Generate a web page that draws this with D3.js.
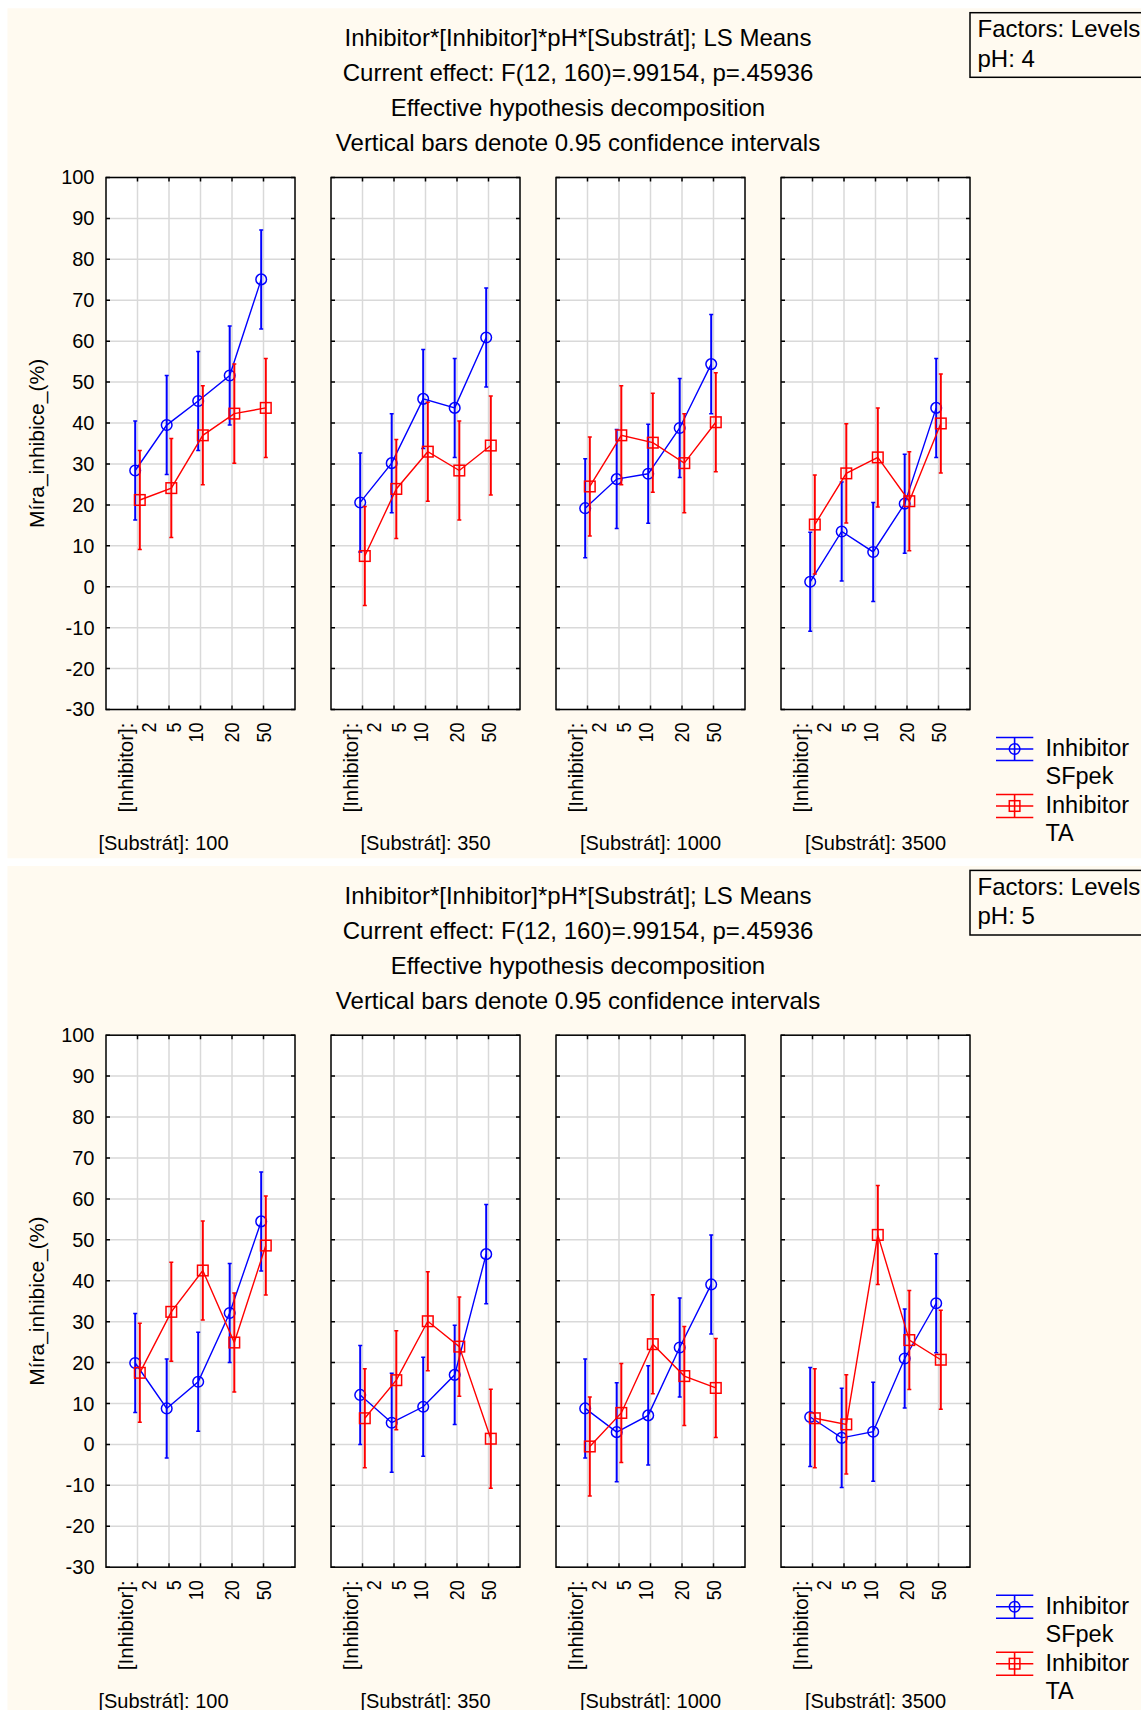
<!DOCTYPE html>
<html>
<head>
<meta charset="utf-8">
<script src="https://cdn.jsdelivr.net/npm/d3@7/dist/d3.min.js"></script>
<style>
  body { margin: 0; background: #ffffff; }
  svg text { font-family: "Liberation Sans", Arial, sans-serif; fill: #000; }
</style>
</head>
<body>
<div id="chart"></div>
<script>
// categories
var inhibitorLevels = ["2", "5", "10", "20", "50"];
var substrateLevels = ["100", "350", "1000", "3500"];
var phLevels = ["4", "5"];
var seriesNames = [["Inhibitor", "SFpek"], ["Inhibitor", "TA"]];
var yTicks = [-30, -20, -10, 0, 10, 20, 30, 40, 50, 60, 70, 80, 90, 100];
var titleLines = [
  "Inhibitor*[Inhibitor]*pH*[Substrát]; LS Means",
  "Current effect: F(12, 160)=.99154, p=.45936",
  "Effective hypothesis decomposition",
  "Vertical bars denote 0.95 confidence intervals"
];

// LS means, one row per substrate, one value per inhibitor level
var sfpekPH4 = [[28.4, 39.5, 45.4, 51.6, 75.1], [20.6, 30.2, 45.9, 43.7, 60.9],
                [19.2, 26.3, 27.6, 38.8, 54.4], [1.2, 13.5, 8.5, 20.3, 43.7]];
var taPH4    = [[21.2, 24.1, 37.0, 42.3, 43.7], [7.5, 23.9, 33.0, 28.4, 34.5],
                [24.5, 37.0, 35.2, 30.2, 40.2], [15.2, 27.7, 31.6, 20.9, 39.9]];
var sfpekPH5 = [[19.9, 8.8, 15.3, 32.1, 54.5], [12.1, 5.3, 9.2, 17.0, 46.5],
                [8.8, 3.0, 7.1, 23.7, 39.1], [6.7, 1.6, 3.1, 21.0, 34.5]];
var taPH5    = [[17.5, 32.4, 42.5, 24.9, 48.6], [6.4, 15.7, 30.1, 23.9, 1.4],
                [-0.5, 7.7, 24.5, 16.7, 13.8], [6.4, 4.9, 51.2, 25.5, 20.7]];
// half width of the 0.95 confidence interval (same for every cell)
var ciHalf = 12.1;

var means = [[sfpekPH4, taPH4], [sfpekPH5, taPH5]];
var colors = ["#0000ff", "#ff0000"];

// layout
var width = 1141, height = 1710;
var panelY = [8.3, 866];
var plotLeft = 106, plotStep = 225, plotW = 189;
var plotTop = 169.2, plotH = 532;
var dodge = [-2.3, 2.3];
var labelNudge = [0, 4.6, -4.7, 0, 0];

var svg = d3.select("#chart").append("svg")
  .attr("width", width)
  .attr("height", height);

var y = d3.scaleLinear().domain([-30, 100]).range([plotTop + plotH, plotTop]);

phLevels.forEach(function(ph, p) {
  var g = svg.append("g").attr("transform", "translate(0," + panelY[p] + ")");

  // cream background
  g.append("rect")
    .attr("x", 7.5).attr("y", 0)
    .attr("width", width)
    .attr("height", p == 0 ? 850 : height - panelY[p])
    .attr("fill", "#fffaf0");

  // titles
  g.selectAll(".title").data(titleLines).enter()
    .append("text")
      .attr("x", 578)
      .attr("y", function(d, i) { return 37.7 + 35 * i; })
      .attr("text-anchor", "middle")
      .style("font-size", "24px")
      .text(function(d) { return d; });

  // Factors box
  g.append("rect")
    .attr("x", 970).attr("y", 4.4)
    .attr("width", 200).attr("height", 64.6)
    .attr("fill", "none").attr("stroke", "#000").attr("stroke-width", 1.5);
  g.append("text").attr("x", 977.5).attr("y", 28.7).style("font-size", "24px").text("Factors: Levels");
  g.append("text").attr("x", 977.5).attr("y", 58.4).style("font-size", "24px").text("pH: " + ph);

  // y axis title
  g.append("text")
    .attr("transform", "translate(36.7," + (plotTop + plotH / 2) + ") rotate(-90)")
    .attr("text-anchor", "middle")
    .attr("dy", "0.35em")
    .style("font-size", "21px")
    .text("Míra_inhibice_(%)");

  // y tick labels (first plot only)
  g.selectAll(".ylab").data(yTicks).enter()
    .append("text")
      .attr("x", plotLeft - 11.5)
      .attr("y", function(d) { return y(d); })
      .attr("dy", "0.35em")
      .attr("text-anchor", "end")
      .style("font-size", "20px")
      .text(function(d) { return d; });

  substrateLevels.forEach(function(sub, k) {
    var left = plotLeft + plotStep * k;
    var x = d3.scalePoint()
      .domain(inhibitorLevels)
      .range([left + plotW / 6, left + plotW * 5 / 6]);

    var Svg = g.append("g");

    Svg.append("rect")
      .attr("x", left).attr("y", plotTop)
      .attr("width", plotW).attr("height", plotH)
      .attr("fill", "#ffffff");

    // grid
    Svg.selectAll(".hg").data(yTicks).enter()
      .append("line")
        .attr("x1", left).attr("x2", left + plotW)
        .attr("y1", function(d) { return y(d); })
        .attr("y2", function(d) { return y(d); })
        .attr("stroke", "#d9d9d9").attr("stroke-width", 1.5);
    Svg.selectAll(".vg").data(inhibitorLevels).enter()
      .append("line")
        .attr("x1", function(d) { return x(d); })
        .attr("x2", function(d) { return x(d); })
        .attr("y1", plotTop).attr("y2", plotTop + plotH)
        .attr("stroke", "#d9d9d9").attr("stroke-width", 1.5);

    // inward ticks on the frame
    Svg.selectAll(".tl").data(yTicks).enter()
      .append("path")
        .attr("d", function(d) {
          return "M" + left + "," + y(d) + "h4M" + (left + plotW) + "," + y(d) + "h-4";
        })
        .attr("stroke", "#000").attr("stroke-width", 1.5);
    Svg.selectAll(".tt").data(inhibitorLevels).enter()
      .append("path")
        .attr("d", function(d) {
          return "M" + x(d) + "," + plotTop + "v4M" + x(d) + "," + (plotTop + plotH) + "v-4";
        })
        .attr("stroke", "#000").attr("stroke-width", 1.5);

    Svg.append("rect")
      .attr("x", left).attr("y", plotTop)
      .attr("width", plotW).attr("height", plotH)
      .attr("fill", "none").attr("stroke", "#000").attr("stroke-width", 1.5);

    // series
    means[p].forEach(function(ser, s) {
      var vals = ser[k];
      var c = colors[s];
      var px = function(d, i) { return x(inhibitorLevels[i]) + dodge[s]; };

      Svg.append("path")
        .datum(vals)
        .attr("fill", "none")
        .attr("stroke", c)
        .attr("stroke-width", 1.4)
        .attr("d", d3.line().x(px).y(function(d) { return y(d); }));

      var eb = Svg.append("g").selectAll("g").data(vals).enter().append("g");
      eb.append("line")
        .attr("x1", px).attr("x2", px)
        .attr("y1", function(d) { return y(d + ciHalf); })
        .attr("y2", function(d) { return y(d - ciHalf); })
        .attr("stroke", c).attr("stroke-width", 2);
      eb.append("path")
        .attr("d", function(d, i) {
          var cx = px(d, i);
          return "M" + (cx - 2) + "," + y(d + ciHalf) + "h4M" + (cx - 2) + "," + y(d - ciHalf) + "h4";
        })
        .attr("stroke", c).attr("stroke-width", 1.5);

      if (s == 0) {
        eb.append("circle")
          .attr("cx", px)
          .attr("cy", function(d) { return y(d); })
          .attr("r", 5.3)
          .attr("fill", "none").attr("stroke", c).attr("stroke-width", 1.5);
      } else {
        eb.append("rect")
          .attr("x", function(d, i) { return px(d, i) - 5.3; })
          .attr("y", function(d) { return y(d) - 5.3; })
          .attr("width", 10.6).attr("height", 10.6)
          .attr("fill", "none").attr("stroke", c).attr("stroke-width", 1.5);
      }
    });

    // x tick labels (rotated)
    inhibitorLevels.forEach(function(lv, i) {
      var tx = x(lv) + labelNudge[i];
      var ty = plotTop + plotH + 13;
      if (i == 0) {
        Svg.append("text")
          .attr("transform", "translate(" + (tx - 11.5) + "," + ty + ") rotate(-90)")
          .attr("text-anchor", "end").attr("dy", "0.35em")
          .style("font-size", "20.5px")
          .text("[Inhibitor]:");
        tx = tx + 11.5;
      }
      Svg.append("text")
        .attr("transform", "translate(" + tx + "," + ty + ") rotate(-90) scale(0.88,1)")
        .attr("text-anchor", "end").attr("dy", "0.35em")
        .style("font-size", "20.5px")
        .text(lv);
    });

    // substrate label, first one is centred over the cell with the y axis
    var cellLeft = k == 0 ? 32 : left;
    Svg.append("text")
      .attr("x", (cellLeft + left + plotW) / 2)
      .attr("y", plotTop + plotH + 140.5)
      .attr("text-anchor", "middle")
      .style("font-size", "20px")
      .text("[Substrát]: " + sub);
  });

  // legend
  var lg = g.append("g");
  seriesNames.forEach(function(nm, s) {
    var cy = plotTop + plotH + 39.5 + 57 * s;
    var c = colors[s];
    lg.append("path")
      .attr("d", "M996," + (cy - 11.5) + "H1033.3M996," + cy + "H1033.3M996," + (cy + 11.5) + "H1033.3M1014.6," + (cy - 11.5) + "V" + (cy + 11.5))
      .attr("stroke", c).attr("stroke-width", 1.6).attr("fill", "none");
    if (s == 0) {
      lg.append("circle").attr("cx", 1014.6).attr("cy", cy).attr("r", 5.3)
        .attr("fill", "none").attr("stroke", c).attr("stroke-width", 1.5);
    } else {
      lg.append("rect").attr("x", 1009.3).attr("y", cy - 5.3).attr("width", 10.6).attr("height", 10.6)
        .attr("fill", "none").attr("stroke", c).attr("stroke-width", 1.5);
    }
    lg.append("text").attr("x", 1045.5).attr("y", cy + 7.2).style("font-size", "23.5px").text(nm[0]);
    lg.append("text").attr("x", 1045.5).attr("y", cy + 35.5).style("font-size", "23.5px").text(nm[1]);
  });
});
</script>
</body>
</html>
